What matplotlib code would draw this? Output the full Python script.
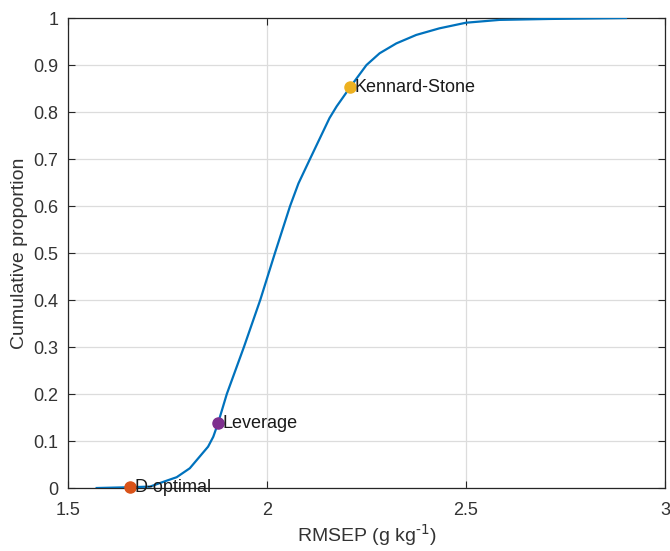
import matplotlib.pyplot as plt
import numpy as np

plt.rcParams['font.family'] = ['Liberation Sans', 'DejaVu Sans']

rmsep = [1.572, 1.647, 1.706, 1.739, 1.773, 1.806, 1.831, 1.852, 1.865, 1.877, 1.899,
         1.942, 1.983, 2.020, 2.058, 2.079, 2.108, 2.157, 2.175, 2.190,
         2.209, 2.250, 2.283, 2.325, 2.375, 2.433, 2.500, 2.584, 2.709, 2.902]
cumprop = [0.0, 0.0015, 0.003, 0.013, 0.023, 0.042, 0.067, 0.088, 0.109, 0.138, 0.2,
           0.3, 0.4, 0.5, 0.6, 0.648, 0.7, 0.787, 0.812, 0.830,
           0.853, 0.900, 0.925, 0.946, 0.964, 0.978, 0.990, 0.996, 0.998, 1.0]

methods = ['D-optimal', 'Leverage', 'Kennard-Stone']
method_x = [1.656, 1.877, 2.209]
method_y = [0.002, 0.138, 0.853]
colors = ['#D95319', '#7E2F8E', '#EDB120']

fig = plt.figure(figsize=(6.7, 5.51), dpi=100)
ax = fig.add_axes([0.1015, 0.1143, 0.891, 0.8530])

ax.plot(rmsep, cumprop, color='#0072BD', lw=1.6, zorder=3)
for name, x, y, c in zip(methods, method_x, method_y, colors):
    ax.plot(x, y, 'o', color=c, ms=8, zorder=4, clip_on=False)
    ax.text(x + 0.011, y, name, fontsize=13, va='center', ha='left', zorder=5,
            color='#1a1a1a')

ax.set_xlim(1.5, 3)
ax.set_ylim(0, 1)
ax.set_xticks([1.5, 2, 2.5, 3])
ax.set_xticklabels(['1.5', '2', '2.5', '3'])
ax.set_yticks(np.arange(0, 1.01, 0.1))
ax.set_yticklabels(['0', '0.1', '0.2', '0.3', '0.4', '0.5', '0.6', '0.7', '0.8', '0.9', '1'])
ax.grid(True, color='#DCDCDC', lw=0.9)
ax.set_axisbelow(True)
ax.tick_params(direction='in', length=5, top=True, right=True, labelsize=13,
               colors='#262626', labelcolor='#333333')
ax.tick_params(axis='x', pad=10)
ax.tick_params(axis='y', pad=7)
for s in ax.spines.values():
    s.set_color('#262626')
    s.set_linewidth(0.9)

ax.set_xlabel('RMSEP (g kg$^{\\text{-1}}$)', fontsize=14, color='#333333', labelpad=2)
ax.set_ylabel('Cumulative proportion', fontsize=14, color='#333333', labelpad=4)

fig.savefig('out.png', dpi=100)
